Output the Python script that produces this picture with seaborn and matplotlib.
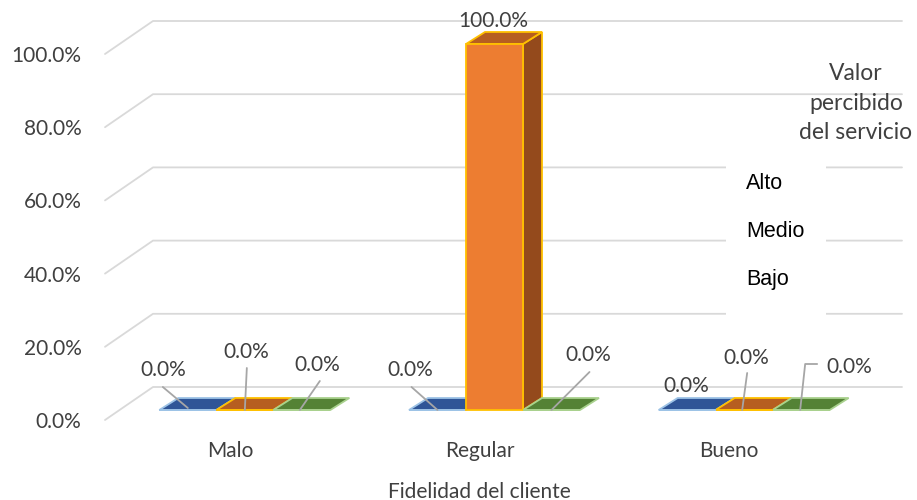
import matplotlib
matplotlib.use("Agg")
import matplotlib.pyplot as plt
import matplotlib.transforms as mtransforms
from matplotlib.patches import Polygon, Rectangle, Patch
from matplotlib.lines import Line2D
import seaborn as sns
import pandas as pd

# ---- data -------------------------------------------------------------
categories = ["Malo", "Regular", "Bueno"]
levels = ["Alto", "Medio", "Bajo"]
alto = [0.0, 0.0, 0.0]
medio = [0.0, 1.0, 0.0]
bajo = [0.0, 0.0, 0.0]
yticks = [0.0, 0.2, 0.4, 0.6, 0.8, 1.0]
ytick_labels = ["0.0%", "20.0%", "40.0%", "60.0%", "80.0%", "100.0%"]
x_title = "Fidelidad del cliente"
legend_title = "Valor\npercibido\ndel servicio"

df = pd.DataFrame({
    x_title: categories * 3,
    "Valor": [lv for lv in levels for _ in categories],
    "pct": alto + medio + bajo,
})

# ---- style --------------------------------------------------------------
W, H, DPI = 917, 500, 100
front = {"Alto": "#4472C4", "Medio": "#ED7D31", "Bajo": "#70AD47"}
topc = {"Alto": "#2F5597", "Medio": "#B65E20", "Bajo": "#548235"}
sidec = {"Alto": "#2A4A86", "Medio": "#944A1C", "Bajo": "#456E2C"}
edgec = {"Alto": "#9DC3E6", "Medio": "#FFC000", "Bajo": "#A9D18E"}
grid_col = "#D9D9D9"
text_col = "#404040"
lead_col = "#A6A6A6"

GRID_DEPTH = (48, 33)     # px offset of the back wall
BAR_SHIFT = (15, 10)      # px offset of the bar row behind the front plane
BAR_DEPTH = (19, 12)      # px depth of each column

sns.set_theme(style="white")
plt.rcParams["font.family"] = ["Lato", "DejaVu Sans"]

fig = plt.figure(figsize=(W / DPI, H / DPI), dpi=DPI)
ax = fig.add_axes([105 / W, (H - 420) / H, 749 / W, 366 / H])

sns.barplot(data=df, x=x_title, y="pct", hue="Valor", order=categories,
            hue_order=levels, palette=front, width=0.685, saturation=1,
            legend=False, ax=ax, zorder=3)
bars = list(ax.patches)

ax.set_xlim(-0.5, 2.5)
ax.set_ylim(0, 1.0)
ax.set_yticks(yticks)
ax.set_yticklabels(ytick_labels)
for s in ax.spines.values():
    s.set_visible(False)
ax.grid(False)
ax.tick_params(axis="y", length=0, pad=17, labelsize=15, labelcolor=text_col)
ax.tick_params(axis="x", length=0, pad=15, labelsize=15, labelcolor=text_col)
ax.set_xlabel(x_title, fontsize=15, color=text_col, labelpad=15)
ax.set_ylabel("")


def to_px(xd, yd):
    dx, dy = ax.transData.transform((xd, yd))
    return dx, H - dy


def fig_pts(pts):
    return [(x / W, 1 - y / H) for x, y in pts]


def add_line(pts, **kw):
    xs, ys = zip(*fig_pts(pts))
    ax.add_artist(Line2D(xs, ys, transform=fig.transFigure, clip_on=False, **kw))


def add_poly(pts, **kw):
    ax.add_artist(Polygon(fig_pts(pts), closed=True, transform=fig.transFigure,
                          clip_on=False, **kw))


# back-wall gridlines with their slanted floor edge
for v in yticks:
    x0, y0 = to_px(-0.5, v)
    x1, _ = to_px(2.5, v)
    add_line([(x0, y0), (x0 + GRID_DEPTH[0], y0 - GRID_DEPTH[1]),
              (x1 + GRID_DEPTH[0], y0 - GRID_DEPTH[1])],
             color=grid_col, lw=1.3, zorder=0.5)

# legend panel hides the wall behind the entries
ax.add_artist(Rectangle((726 / W, 1 - 325 / H), 100 / W, 170 / H,
                        transform=fig.transFigure, clip_on=False,
                        facecolor="white", edgecolor="none", zorder=1))

# label placement (px offsets from each column's top-front centre)
label_off = {
    ("Malo", "Alto"): ((-25, -40), [(-25, -23), (0, -2)]),
    ("Malo", "Medio"): ((1, -58), [(2, -42), (0, 0)]),
    ("Malo", "Bajo"): ((15, -45), [(18, -29), (-2, 0)]),
    ("Regular", "Alto"): ((-27, -40), [(-26, -23), (0, 0)]),
    ("Regular", "Medio"): ((-1, -23), []),
    ("Regular", "Bajo"): ((37, -55), [(38, -38), (0, 0)]),
    ("Bueno", "Alto"): ((-1, -24), []),
    ("Bueno", "Medio"): ((2, -52), [(3, -37), (-2, 0)]),
    ("Bueno", "Bajo"): ((48, -43), [(16, -46), (4, -46), (-1, 0)]),
}

shift = mtransforms.ScaledTranslation(BAR_SHIFT[0] / DPI, BAR_SHIFT[1] / DPI,
                                      fig.dpi_scale_trans)
bw = 0.685 / len(levels)
for p in bars:
    cx = p.get_x() + p.get_width() / 2
    ci = int(round(cx))
    hi = int(round((cx - ci) / bw + 1))
    cat, lv = categories[ci], levels[hi]
    val = df[(df[x_title] == cat) & (df["Valor"] == lv)]["pct"].iloc[0]

    p.set_transform(ax.transData + shift)
    p.set_clip_on(False)
    p.set_edgecolor(edgec[lv])
    p.set_linewidth(1.3)
    p.set_zorder(3)

    xl, yb = to_px(p.get_x(), 0)
    xr, yt = to_px(p.get_x() + p.get_width(), val)
    xl += BAR_SHIFT[0]; xr += BAR_SHIFT[0]
    yb -= BAR_SHIFT[1]; yt -= BAR_SHIFT[1]
    ddx, ddy = BAR_DEPTH

    side = [(xr, yb), (xr + ddx, yb - ddy), (xr + ddx, yt - ddy), (xr, yt)]
    top = [(xl, yt), (xr, yt), (xr + ddx, yt - ddy), (xl + ddx, yt - ddy)]
    if val > 0:
        add_poly(side, facecolor=sidec[lv], edgecolor=edgec[lv], lw=1.3,
                 zorder=2.5)
    add_poly(top, facecolor=topc[lv], edgecolor=edgec[lv], lw=1.3, zorder=2.6)

    # value label with its leader line
    cxp = (xl + xr) / 2
    (lx, ly), lead = label_off[(cat, lv)]
    if lead:
        add_line([(cxp + a, yt + b) for a, b in lead], color=lead_col, lw=1.3,
                 zorder=4)
    fig.text((cxp + lx) / W, 1 - (yt + ly) / H, f"{val * 100:.1f}%",
             ha="center", va="center", fontsize=15, color=text_col, zorder=5)

# legend entries without swatches
handles = [Patch(facecolor="none", edgecolor="none", label=lv) for lv in levels]
leg = fig.legend(handles=handles, loc="upper left",
                 bbox_to_anchor=(735 / W, 1 - 162 / H), frameon=False,
                 handlelength=0, handletextpad=0, labelspacing=1.25,
                 prop={"family": ["Liberation Sans", "DejaVu Sans"], "size": 15.5},
                 borderpad=0)
for t in leg.get_texts():
    t.set_color("black")

fig.text(856 / W, 1 - 103 / H, legend_title, ha="center", va="center",
         fontsize=16.5, color=text_col, linespacing=1.5)

fig.savefig("out.png", dpi=DPI)
